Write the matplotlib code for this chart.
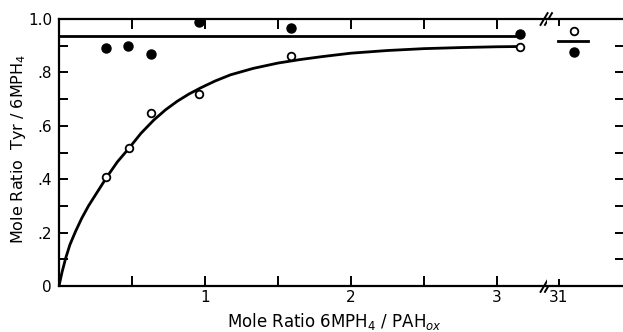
import matplotlib
matplotlib.use("Agg")
import matplotlib.pyplot as plt

# ---- data ----
open_x = [0.32, 0.48, 0.63, 0.96, 1.59, 3.16]
open_y = [0.41, 0.515, 0.648, 0.72, 0.86, 0.897]
filled_x = [0.32, 0.47, 0.63, 0.96, 1.59, 3.16]
filled_y = [0.891, 0.90, 0.869, 0.987, 0.968, 0.945]

curve_x = [0, 0.02, 0.045, 0.075, 0.113, 0.155, 0.202, 0.26, 0.33, 0.40, 0.478,
           0.56, 0.65, 0.73, 0.81, 0.89, 0.97, 1.07, 1.175, 1.33, 1.5, 1.65,
           1.8, 2.0, 2.25, 2.5, 2.75, 3.0, 3.16]
curve_y = [0, 0.050, 0.103, 0.155, 0.204, 0.253, 0.30, 0.35, 0.41, 0.465, 0.515,
           0.571, 0.622, 0.660, 0.692, 0.719, 0.742, 0.768, 0.791, 0.815, 0.835,
           0.848, 0.859, 0.872, 0.882, 0.889, 0.893, 0.896, 0.897]

hline_x = [0, 3.16]
hline_y = [0.935, 0.935]

# points at mole ratio 31 (after the axis break)
far_open_x, far_open_y = [31.1], [0.955]
far_filled_x, far_filled_y = [31.1], [0.876]
far_mean_x, far_mean_y = [30.99, 31.2], [0.918, 0.918]

left_xticks_major = [1, 2, 3]
left_xticks_minor = [0.5, 1.5, 2.5]
yticks_major = [0, 0.2, 0.4, 0.6, 0.8, 1.0]
ytick_labels = ["0", ".2", ".4", ".6", ".8", "1.0"]
yticks_minor = [0.1, 0.3, 0.5, 0.7, 0.9]
right_xticks = [31]

# ---- figure ----
plt.rcParams['font.family'] = ['DejaVu Sans']
W, H = 623, 332
fig = plt.figure(figsize=(W / 100, H / 100), dpi=100)

L, R_break, R_end = 59, 547, 623
B, T = 286, 19
axL = fig.add_axes([L / W, (H - B) / H, (R_break - L) / W, (B - T) / H])
axR = fig.add_axes([R_break / W, (H - B) / H, (R_end - R_break) / W, (B - T) / H])

lw = 1.6
for ax in (axL, axR):
    ax.set_ylim(0, 1.0)
    for s in ax.spines.values():
        s.set_linewidth(lw)

axL.set_xlim(0, (R_break - L) / 146.0)
axR.set_xlim(31 - 12 / 146.0, 31 - 12 / 146.0 + (R_end - R_break) / 146.0)

# left axis
axL.spines['right'].set_visible(False)
axL.plot(curve_x, curve_y, color='black', lw=2.0, solid_capstyle='round',
         solid_joinstyle='round')
axL.plot(hline_x, hline_y, color='black', lw=2.0)
axL.plot(open_x, open_y, 'o', ms=5.5, mfc='white', mec='black', mew=1.3)
axL.plot(filled_x, filled_y, 'o', ms=6.5, mfc='black', mec='black')

axL.set_xticks(left_xticks_major)
axL.set_xticklabels([str(v) for v in left_xticks_major])
axL.set_xticks(left_xticks_minor, minor=True)
axL.set_yticks(yticks_major)
axL.set_yticklabels(ytick_labels)
axL.set_yticks(yticks_minor, minor=True)
axL.tick_params(axis='both', which='both', direction='in', width=1.4,
                labelsize=11, top=True, right=False)
axL.tick_params(axis='x', which='both', length=7, pad=3)
axL.tick_params(axis='y', which='both', length=6.5, pad=5)

# right axis (after break)
axR.spines['left'].set_visible(False)
axR.spines['right'].set_visible(False)
axR.plot(far_mean_x, far_mean_y, color='black', lw=2.0)
axR.plot(far_open_x, far_open_y, 'o', ms=5.5, mfc='white', mec='black', mew=1.3)
axR.plot(far_filled_x, far_filled_y, 'o', ms=6.5, mfc='black', mec='black')
axR.set_xticks(right_xticks)
axR.set_xticklabels([str(v) for v in right_xticks])
axR.set_yticks([0.1, 0.2, 0.3, 0.4, 0.5, 0.6, 0.7, 0.8, 0.9])
axR.tick_params(axis='y', which='both', direction='in', left=False, right=True,
                labelleft=False, labelright=False, length=6, width=1.4)
axR.tick_params(axis='x', which='both', direction='in', top=True, length=5,
                width=1.4, labelsize=11, pad=3)

# break marks
d = 0.012
for yy in (0, 1):
    for off in (-0.006, 0.003):
        axL.plot([1 + off - d * 0.6, 1 + off + d * 0.6], [yy - 0.022, yy + 0.022],
                 transform=axL.transAxes, color='black', lw=1.4, clip_on=False)

# labels
fig.text(19 / W, 1 - 149 / H, 'Mole Ratio  Tyr / 6MPH$_4$', fontsize=11.5,
         rotation=90, ha='center', va='center')
fig.text(334 / W, 1 - 321 / H, 'Mole Ratio 6MPH$_4$ / PAH$_{ox}$', fontsize=12,
         ha='center', va='center')

fig.savefig('out.png', dpi=100)
